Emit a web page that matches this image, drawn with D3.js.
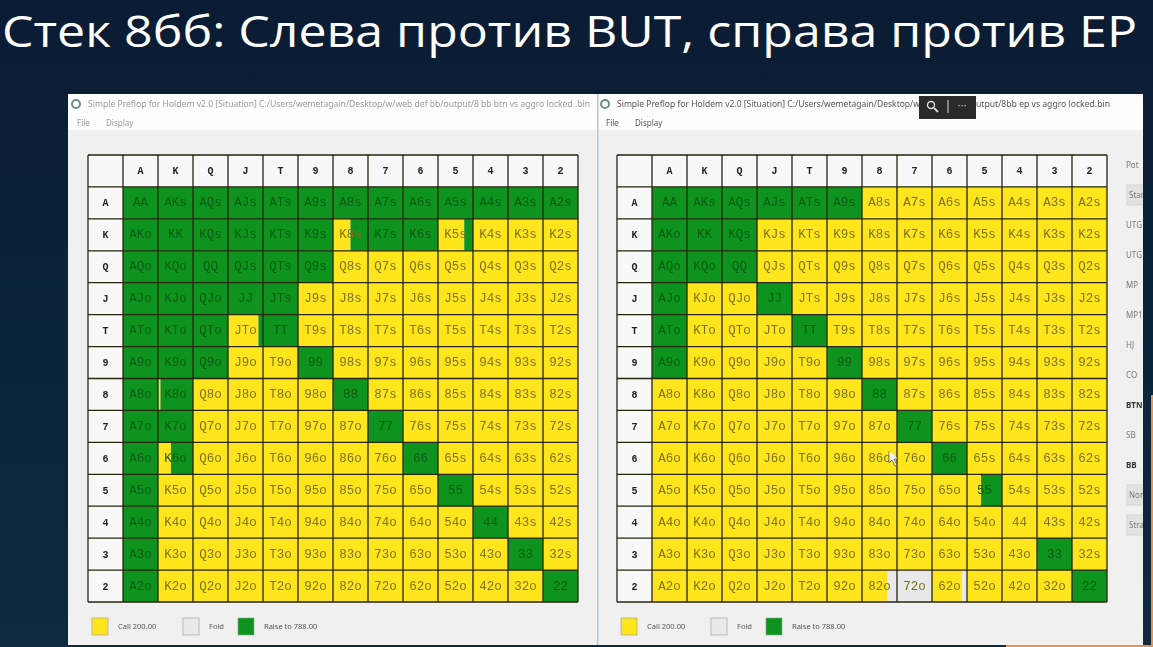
<!DOCTYPE html>
<html>
<head>
<meta charset="utf-8">
<script src="https://cdn.jsdelivr.net/npm/d3@7"></script>
<style>
  html, body { margin: 0; padding: 0; background: #0b2035; overflow: hidden; }
  svg { display: block; }
  .soft { filter: blur(0.45px); }
</style>
</head>
<body>
<svg id="chart" width="1153" height="647"></svg>
<script>
const titleText = "Стек 8бб: Слева против BUT, справа против EP";
const ranks = ["A","K","Q","J","T","9","8","7","6","5","4","3","2"];
const actions = ["Call 200.00","Fold","Raise to 788.00"];
const sideItems = ["Pot","Start","UTG","UTG1","MP","MP1","HJ","CO","BTN","SB","BB","None","Strat"];
const sideButtons = ["Start","None","Strat"];
const sideBold = ["BTN","BB"];

// share of raise in each cell, rows and columns go A..2
const raiseLeft = [
  [1,1,1,1,1,1,1,1,1,1,1,1,1],
  [1,1,1,1,1,1,.5,1,1,.25,0,0,0],
  [1,1,1,1,1,1,0,0,0,0,0,0,0],
  [1,1,1,1,1,0,0,0,0,0,0,0,0],
  [1,1,1,.13,1,0,0,0,0,0,0,0,0],
  [1,1,1,0,0,1,0,0,0,0,0,0,0],
  [1,.93,0,0,0,0,1,0,0,0,0,0,0],
  [1,1,0,0,0,0,0,1,0,0,0,0,0],
  [1,.63,0,0,0,0,0,0,1,0,0,0,0],
  [1,0,0,0,0,0,0,0,0,1,0,0,0],
  [1,0,0,0,0,0,0,0,0,0,1,0,0],
  [1,0,0,0,0,0,0,0,0,0,0,1,0],
  [1,0,0,0,0,0,0,0,0,0,0,0,1]
];
const raiseRight = [
  [1,1,1,1,1,1,0,0,0,0,0,0,0],
  [1,1,1,0,0,0,0,0,0,0,0,0,0],
  [1,1,1,0,0,0,0,0,0,0,0,0,0],
  [1,0,0,1,0,0,0,0,0,0,0,0,0],
  [1,0,0,0,1,0,0,0,0,0,0,0,0],
  [1,0,0,0,0,1,0,0,0,0,0,0,0],
  [0,0,0,0,0,0,1,0,0,0,0,0,0],
  [0,0,0,0,0,0,0,1,0,0,0,0,0],
  [0,0,0,0,0,0,0,0,1,0,0,0,0],
  [0,0,0,0,0,0,0,0,0,.6,0,0,0],
  [0,0,0,0,0,0,0,0,0,0,0,0,0],
  [0,0,0,0,0,0,0,0,0,0,0,1,0],
  [0,0,0,0,0,0,0,0,0,0,0,0,1]
];
// only the bottom row of the right chart has folds
const foldRightRow2 = [0,0,0,0,0,0,.27,1,.14,0,0,0,0];

const colors = {call:"#ffe61c", fold:"#e9e9e9", raise:"#0f931f"};
const svg = d3.select("#chart");

// background
const defs = svg.append("defs");
const bg = defs.append("linearGradient").attr("id","bg").attr("x1",0).attr("x2",0).attr("y1",0).attr("y2",1);
bg.append("stop").attr("offset",0).attr("stop-color","#0a1c33");
bg.append("stop").attr("offset",1).attr("stop-color","#0c2a40");
svg.append("rect").attr("width",1153).attr("height",647).attr("fill","url(#bg)");
svg.append("rect").attr("x",1151).attr("y",395).attr("width",2).attr("height",252).attr("fill","#e8924a");
svg.append("rect").attr("x",1006).attr("y",645).attr("width",147).attr("height",2).attr("fill","#e8924a");

svg.append("text")
  .attr("x",2).attr("y",46.5)
  .attr("fill","#fff")
  .attr("font-family","'Open Sans'")
  .attr("font-size",43)
  .attr("textLength",1135)
  .attr("lengthAdjust","spacingAndGlyphs")
  .text(titleText);

function drawPanel(cfg) {
  const g = svg.append("g").attr("class","soft");
  g.append("rect").attr("x",cfg.winX).attr("y",94).attr("width",cfg.winW).attr("height",551).attr("fill","#f0f0f0");
  g.append("rect").attr("x",cfg.winX).attr("y",94).attr("width",cfg.winW).attr("height",36).attr("fill","#fdfdfd");

  // title bar
  g.append("circle").attr("cx",cfg.winX+8).attr("cy",104).attr("r",4)
    .attr("fill","none").attr("stroke","#6f8f86").attr("stroke-width",2);
  cfg.captions.forEach(c => {
    g.append("text").attr("x",c.x).attr("y",107)
      .attr("font-family","'Noto Sans'").attr("font-size",8.8)
      .attr("fill",cfg.captionColor).attr("textLength",c.w).attr("lengthAdjust","spacingAndGlyphs").text(c.t);
  });
  g.selectAll(".menu").data(["File","Display"]).join("text")
    .attr("x",(d,i) => cfg.winX + (i ? 38 : 9)).attr("y",126)
    .attr("font-family","'Noto Sans'").attr("font-size",8)
    .attr("fill",cfg.captionColor).text(d => d);

  // grid scales, the first band is the header
  const x = d3.scaleBand().domain(["",...ranks]).range([cfg.gridX, cfg.gridX + 490]);
  const y = d3.scaleBand().domain(["",...ranks]).range([155, 602]);

  const hands = [];
  ranks.forEach((r,i) => ranks.forEach((c,j) => {
    const raise = cfg.raise[i][j];
    const fold = cfg.fold ? cfg.fold(i,j) : 0;
    const label = i === j ? r + c : (i < j ? r + c + "s" : c + r + "o");
    hands.push({r, c, call: 1 - raise - fold, fold, raise, label});
  }));

  // header cells
  g.append("rect").attr("x",cfg.gridX).attr("y",155).attr("width",490).attr("height",y.bandwidth()).attr("fill","#f8f8f8");
  g.append("rect").attr("x",cfg.gridX).attr("y",155).attr("width",x.bandwidth()).attr("height",447).attr("fill","#f8f8f8");

  // each cell is split call | fold | raise
  const cell = g.selectAll(".cell").data(hands).join("g")
    .attr("transform", d => `translate(${x(d.c)},${y(d.r)})`);
  const w = d3.scaleLinear().domain([0,1]).range([0,x.bandwidth()]);
  cell.append("rect").attr("width",d => w(d.call)).attr("height",y.bandwidth()).attr("fill",colors.call);
  cell.append("rect").attr("x",d => w(d.call)).attr("width",d => w(d.fold)).attr("height",y.bandwidth()).attr("fill",colors.fold);
  cell.append("rect").attr("x",d => w(d.call + d.fold)).attr("width",d => w(d.raise)).attr("height",y.bandwidth()).attr("fill",colors.raise);

  // grid lines
  const lines = g.append("g").attr("stroke","#26250f").attr("stroke-width",1.3);
  x.domain().forEach(k => lines.append("line").attr("x1",x(k)).attr("x2",x(k)).attr("y1",155).attr("y2",602));
  y.domain().forEach(k => lines.append("line").attr("x1",cfg.gridX).attr("x2",cfg.gridX+490).attr("y1",y(k)).attr("y2",y(k)));
  lines.append("line").attr("x1",cfg.gridX+490).attr("x2",cfg.gridX+490).attr("y1",155).attr("y2",602);
  lines.append("line").attr("x1",cfg.gridX).attr("x2",cfg.gridX+490).attr("y1",602).attr("y2",602);

  // hand labels
  cell.append("text")
    .attr("x",x.bandwidth()/2).attr("y",y.bandwidth()/2+3.5)
    .attr("text-anchor","middle")
    .attr("font-family","'Liberation Mono'").attr("font-size",12.5)
    .attr("fill", d => d.raise > .5 ? "#0a5a12" : "#7d7112")
    .text(d => d.label);

  // rank headers
  const headFont = sel => sel.attr("text-anchor","middle")
    .attr("font-family","'Liberation Mono'").attr("font-weight","bold").attr("font-size",10).attr("fill","#222");
  g.selectAll(".colHead").data(ranks).join("text").call(headFont)
    .attr("x",d => x(d)+x.bandwidth()/2).attr("y",155+y.bandwidth()/2+3.5).text(d => d);
  g.selectAll(".rowHead").data(ranks).join("text").call(headFont)
    .attr("x",cfg.gridX+x.bandwidth()/2).attr("y",d => y(d)+y.bandwidth()/2+3.5).text(d => d);

  // legend
  const fills = [colors.call, colors.fold, colors.raise];
  actions.forEach((a,i) => {
    g.append("rect").attr("x",cfg.legendX[i]).attr("y",618).attr("width",16).attr("height",17)
      .attr("fill",fills[i]).attr("stroke","#999").attr("stroke-width",.6);
    g.append("text").attr("x",cfg.legendX[i]+26).attr("y",629)
      .attr("font-family","'Noto Sans'").attr("font-size",7.5).attr("fill","#555").text(a);
  });
  return g;
}

drawPanel({
  winX:68, winW:529, gridX:88, raise:raiseLeft, captionColor:"#9a9a9a",
  captions:[{x:88,w:502,t:"Simple Preflop for Holdem v2.0 [Situation] C:/Users/wemetagain/Desktop/w/web def bb/output/8 bb btn vs aggro locked .bin"}],
  legendX:[92,183,238]
});

const right = drawPanel({
  winX:597, winW:546, gridX:617, raise:raiseRight, captionColor:"#555",
  fold:(i,j) => i === 12 ? foldRightRow2[j] : 0,
  captions:[
    {x:617,w:303,t:"Simple Preflop for Holdem v2.0 [Situation] C:/Users/wemetagain/Desktop/w"},
    {x:976,w:134,t:"utput/8bb ep vs aggro locked.bin"}
  ],
  legendX:[621,711,766]
});

// right side column of the second window, cut off by the window edge
const sideY = d3.scalePoint().domain(sideItems).range([165,525]);
const clip = defs.append("clipPath").attr("id","sideClip");
clip.append("rect").attr("x",1120).attr("y",150).attr("width",23).attr("height",400);
const side = right.append("g").attr("clip-path","url(#sideClip)");
side.selectAll("rect").data(sideButtons).join("rect")
  .attr("x",1127).attr("y",d => sideY(d)-10).attr("width",30).attr("height",20)
  .attr("fill","#e2e2e2").attr("stroke","#d4d4d4");
side.selectAll("text").data(sideItems).join("text")
  .attr("x",d => sideButtons.includes(d) ? 1129 : 1126).attr("y",d => sideY(d)+3)
  .attr("font-family","'Noto Sans'").attr("font-size",8)
  .attr("font-weight",d => sideBold.includes(d) ? "bold" : "normal")
  .attr("fill",d => sideBold.includes(d) ? "#333" : "#777")
  .text(d => d);
svg.append("rect").attr("x",597).attr("y",94).attr("width",1.5).attr("height",551).attr("fill","#a9cbe6");

// viewer toolbar sitting over the caption
const bar = svg.append("g");
bar.append("rect").attr("x",919).attr("y",96).attr("width",57).attr("height",23).attr("fill","#2a2a2a");
bar.append("circle").attr("cx",931).attr("cy",105).attr("r",3.5).attr("fill","none").attr("stroke","#ddd").attr("stroke-width",1.4);
bar.append("line").attr("x1",934).attr("y1",108).attr("x2",938).attr("y2",112).attr("stroke","#ddd").attr("stroke-width",1.8);
bar.append("line").attr("x1",948).attr("y1",100).attr("x2",948).attr("y2",113).attr("stroke","#ddd");
bar.append("text").attr("x",962).attr("y",109).attr("text-anchor","middle").attr("font-family","'DejaVu Sans'").attr("font-size",10).attr("fill","#ddd").text("···");

// mouse pointer over 86o
svg.append("path").datum([[889,451],[889,463],[892,460],[895,466],[897,465],[894,459],[898,459]])
  .attr("d",d3.line()).attr("fill","#fff").attr("stroke","#333").attr("stroke-width",.6);
</script>
</body>
</html>
